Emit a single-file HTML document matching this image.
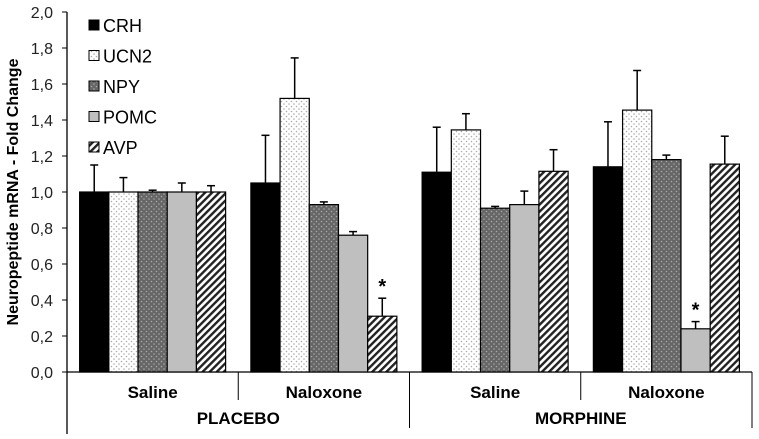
<!DOCTYPE html>
<html><head><meta charset="utf-8"><style>
body{margin:0;background:#fff}
svg text{font-family:"Liberation Sans",Arial,sans-serif}
</style></head><body>
<svg id="chart" width="759" height="434" viewBox="0 0 759 434" xmlns="http://www.w3.org/2000/svg">
<defs>
<pattern id="pUCN2" width="5" height="5" patternUnits="userSpaceOnUse"><rect width="5" height="5" fill="#fff"/><circle cx="1.5" cy="1.5" r="0.8" fill="#aaa"/><circle cx="4" cy="4" r="0.8" fill="#aaa"/></pattern>
<pattern id="pNPY" width="5" height="5" patternUnits="userSpaceOnUse"><rect width="5" height="5" fill="#666"/><circle cx="1.5" cy="1.5" r="0.8" fill="#aaa"/><circle cx="4" cy="4" r="0.8" fill="#aaa"/></pattern>
<pattern id="pAVP" width="5" height="5" patternUnits="userSpaceOnUse" patternTransform="rotate(45)"><rect width="5" height="5" fill="#fff"/><rect width="2.4" height="5" fill="#222"/></pattern>
</defs>
<g id="axes"></g>
<g id="bars"></g>
<g id="legend"></g>
</svg>
<script>
const series = ["CRH","UCN2","NPY","POMC","AVP"];
const groups = ["Saline","Naloxone","Saline","Naloxone"];
const treatments = ["PLACEBO","MORPHINE"];
const crh  = [1.00,1.05,1.11,1.14];
const ucn2 = [1.00,1.52,1.345,1.455];
const npy  = [1.00,0.93,0.91,1.18];
const pomc = [1.00,0.76,0.93,0.24];
const avp  = [1.00,0.31,1.115,1.155];
const crhErr  = [0.15,0.265,0.25,0.25];
const ucn2Err = [0.08,0.225,0.09,0.22];
const npyErr  = [0.01,0.015,0.01,0.025];
const pomcErr = [0.05,0.02,0.075,0.04];
const avpErr  = [0.035,0.10,0.12,0.155];
const significant = [[],[4],[],[3]];
const yTicks = [0,0.2,0.4,0.6,0.8,1.0,1.2,1.4,1.6,1.8,2.0];

const NS="http://www.w3.org/2000/svg";
const fills=["#000","url(#pUCN2)","url(#pNPY)","#bfbfbf","url(#pAVP)"];
const vals=[crh,ucn2,npy,pomc,avp], errs=[crhErr,ucn2Err,npyErr,pomcErr,avpErr];
const X0=67,X1=752,Y0=372,Y1=12;
const y=v=>Y0-(v/2)*(Y0-Y1);
const gw=(X1-X0)/groups.length, bw=29.2, off=(gw-5*bw)/2;
const x=(g,s)=>X0+g*gw+off+s*bw;
function mk(t,a,p){const e=document.createElementNS(NS,t);for(const k in a)e.setAttribute(k,a[k]);p.appendChild(e);return e;}
const axes=document.getElementById('axes'),bars=document.getElementById('bars'),leg=document.getElementById('legend');
let l=mk('line',{x1:X0,y1:Y1,x2:X0,y2:434,stroke:'#000','stroke-width':1.3},axes);

l=mk('line',{x1:X0,y1:Y0,x2:X1,y2:Y0,stroke:'#000','stroke-width':1.3},axes);

yTicks.forEach(v=>{
 mk('line',{x1:X0-5,y1:y(v),x2:X0,y2:y(v),stroke:'#000'},axes);
 const t=mk('text',{x:X0-14,y:y(v)+6,'text-anchor':'end','font-size':16,fill:'#222'},axes);
 t.textContent=v.toFixed(1).replace('.',',');
 
});
const yt=mk('text',{transform:'translate(18,192) rotate(-90)','text-anchor':'middle','font-size':16,'font-weight':'bold'},axes);
yt.textContent='Neuropeptide mRNA - Fold Change';

groups.forEach((g,i)=>{
 const gx=X0+i*gw;
 if(i%2==1) mk('line',{x1:gx,y1:Y0,x2:gx,y2:400,stroke:'#000'},axes);
 const t=mk('text',{x:gx+gw/2,y:398,'text-anchor':'middle','font-size':17,'font-weight':'bold'},axes);
 t.textContent=g;
});
[X0+2*gw,X1].forEach(v=>mk('line',{x1:v,y1:Y0,x2:v,y2:428,stroke:'#000'},axes));
treatments.forEach((tr,i)=>{
 const t=mk('text',{x:X0+(2*i+1)*gw,y:424,'text-anchor':'middle','font-size':17,'font-weight':'bold'},axes);
 t.textContent=tr;
});
for(let g=0;g<groups.length;g++)for(let s=0;s<5;s++){
 const v=vals[s][g],e=errs[s][g],bx=x(g,s),cx=bx+bw/2;
 const ln=mk('line',{x1:cx,y1:y(v),x2:cx,y2:y(v+e),stroke:'#000','stroke-width':1.5},bars);
 
 mk('line',{x1:cx-4,y1:y(v+e),x2:cx+4,y2:y(v+e),stroke:'#000','stroke-width':1.5},bars);
 const r=mk('rect',{x:bx,y:y(v),width:bw,height:Y0-y(v),fill:fills[s],stroke:'#000','stroke-width':1.2},bars);
 
 if(significant[g].includes(s)){
  const t=mk('text',{x:cx,y:y(v+e)-5,'text-anchor':'middle','font-size':20,'font-weight':'bold'},bars);
  t.textContent='*';
 }
}
series.forEach((s,i)=>{
 const ly=25+i*30.5;
 const g=mk('g',{},leg);
 
 mk('rect',{x:89,y:ly-5,width:10,height:10,fill:fills[i],stroke:'#000','stroke-width':1},g);
 const t=mk('text',{x:103,y:ly+7,'font-size':18,fill:'#000'},g);t.textContent=s;
});
</script>
</body></html>
